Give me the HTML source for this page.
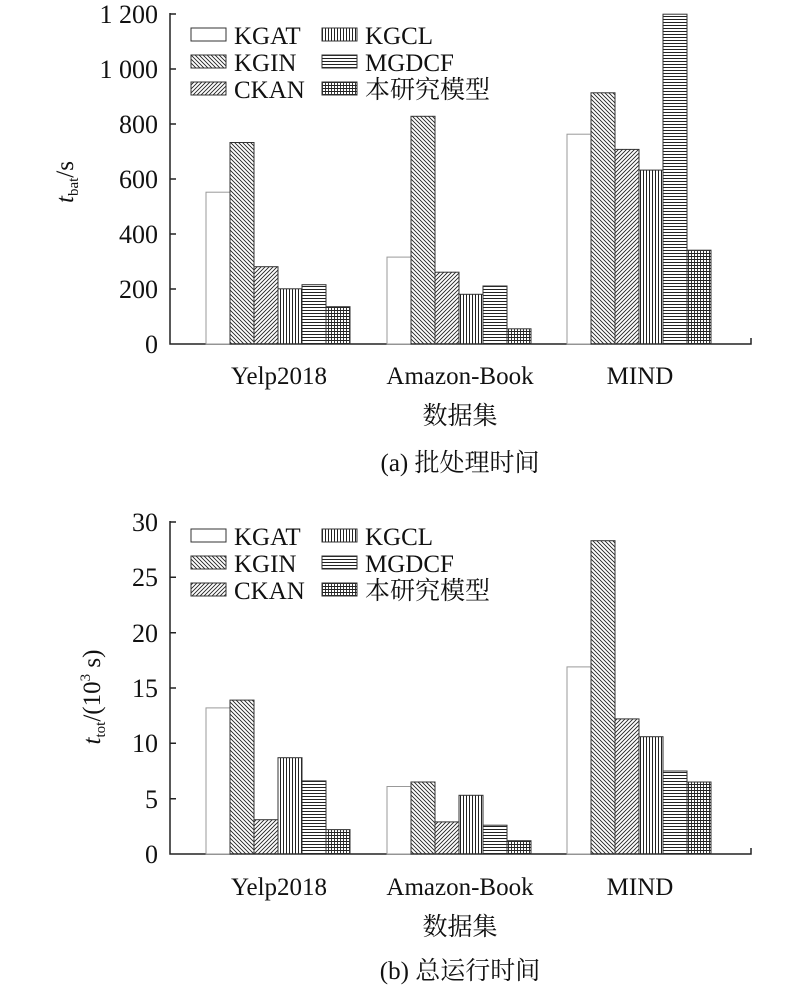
<!DOCTYPE html>
<html><head><meta charset="utf-8"><style>
html,body{margin:0;padding:0;background:#fff;}
svg{display:block;}
text{font-family:"Liberation Serif","Noto Serif CJK SC","Noto Sans CJK SC",serif;fill:#111;}
</style></head><body>
<svg width="800" height="993" viewBox="0 0 800 993" xmlns="http://www.w3.org/2000/svg">
<defs>
<pattern id="p1" patternUnits="userSpaceOnUse" width="4" height="4"><path d="M-1,-1 L5,5 M-1,3 L1,5 M3,-1 L5,1" stroke="#222" stroke-width="0.9"/></pattern>
<pattern id="p2" patternUnits="userSpaceOnUse" width="4" height="4"><path d="M-1,5 L5,-1 M-1,1 L1,-1 M3,5 L5,3" stroke="#222" stroke-width="0.9"/></pattern>
<pattern id="p3" patternUnits="userSpaceOnUse" width="3" height="3"><path d="M1.5,0 V3" stroke="#222" stroke-width="1"/></pattern>
<pattern id="p4" patternUnits="userSpaceOnUse" width="3" height="3"><path d="M0,1.5 H3" stroke="#222" stroke-width="1"/></pattern>
<pattern id="p5" patternUnits="userSpaceOnUse" width="3" height="3"><path d="M1.5,0 V3 M0,1.5 H3" stroke="#222" stroke-width="0.9"/></pattern>
</defs>

<!-- ===== Top chart ===== -->
<g stroke="#222" stroke-width="1.5" fill="none">
<path d="M170,13 V344 H751 V338"/>
<path d="M170,14 h6 M170,69 h6 M170,124 h6 M170,179 h6 M170,234 h6 M170,289 h6"/>
</g>
<g font-size="26" text-anchor="end">
<text x="158" y="23">1 200</text><text x="158" y="78">1 000</text><text x="158" y="133">800</text>
<text x="158" y="188">600</text><text x="158" y="243">400</text><text x="158" y="298">200</text><text x="158" y="353">0</text>
</g>
<text transform="translate(73,182) rotate(-90)" font-size="25" text-anchor="middle"><tspan font-style="italic">t</tspan><tspan font-size="15" dy="5">bat</tspan><tspan dy="-5">/s</tspan></text>
<g stroke="#333" stroke-width="1">
<rect x="206" y="192.2" width="24" height="151.8" fill="#fff" stroke="#999"/>
<rect x="230" y="142.5" width="24" height="201.5" fill="url(#p1)"/>
<rect x="254" y="266.7" width="24" height="77.3" fill="url(#p2)"/>
<rect x="278" y="288.8" width="24" height="55.2" fill="url(#p3)"/>
<rect x="302" y="284.7" width="24" height="59.3" fill="url(#p4)"/>
<rect x="326" y="306.7" width="24" height="37.3" fill="url(#p5)"/>
<rect x="387" y="257.1" width="24" height="86.9" fill="#fff" stroke="#999"/>
<rect x="411" y="116.3" width="24" height="227.7" fill="url(#p1)"/>
<rect x="435" y="272.2" width="24" height="71.8" fill="url(#p2)"/>
<rect x="459" y="294.3" width="24" height="49.7" fill="url(#p3)"/>
<rect x="483" y="286" width="24" height="58" fill="url(#p4)"/>
<rect x="507" y="328.8" width="24" height="15.2" fill="url(#p5)"/>
<rect x="567" y="134.2" width="24" height="209.8" fill="#fff" stroke="#999"/>
<rect x="591" y="92.8" width="24" height="251.2" fill="url(#p1)"/>
<rect x="615" y="149.4" width="24" height="194.6" fill="url(#p2)"/>
<rect x="639" y="170.1" width="24" height="173.9" fill="url(#p3)"/>
<rect x="663" y="14.2" width="24" height="329.8" fill="url(#p4)"/>
<rect x="687" y="250.2" width="24" height="93.8" fill="url(#p5)"/>
</g>
<g stroke="#333" stroke-width="1">
<rect x="191" y="28" width="35" height="13" fill="#fff"/>
<rect x="191" y="55" width="35" height="13" fill="url(#p1)"/>
<rect x="191" y="82" width="35" height="13" fill="url(#p2)"/>
<rect x="322" y="28" width="35" height="13" fill="url(#p3)"/>
<rect x="322" y="55" width="35" height="13" fill="url(#p4)"/>
<rect x="322" y="82" width="35" height="13" fill="url(#p5)"/>
</g>
<g font-size="25">
<text x="234" y="44">KGAT</text><text x="234" y="71">KGIN</text><text x="234" y="98">CKAN</text>
<text x="365" y="44">KGCL</text><text x="365" y="71">MGDCF</text><text x="365" y="98">本研究模型</text>
</g>
<g font-size="25" text-anchor="middle">
<text x="279" y="384">Yelp2018</text><text x="460" y="384">Amazon-Book</text><text x="640" y="384">MIND</text>
<text x="460" y="424">数据集</text><text x="460" y="471">(a) 批处理时间</text>
</g>

<!-- ===== Bottom chart ===== -->
<g stroke="#222" stroke-width="1.5" fill="none">
<path d="M170,521 V854 H751 V848"/>
<path d="M170,522 h6 M170,577.3 h6 M170,632.7 h6 M170,688 h6 M170,743.3 h6 M170,798.7 h6"/>
</g>
<g font-size="26" text-anchor="end">
<text x="158" y="531">30</text><text x="158" y="586">25</text><text x="158" y="642">20</text>
<text x="158" y="697">15</text><text x="158" y="752">10</text><text x="158" y="808">5</text><text x="158" y="863">0</text>
</g>
<text transform="translate(100,697) rotate(-90)" font-size="25" text-anchor="middle"><tspan font-style="italic">t</tspan><tspan font-size="15" dy="5">tot</tspan><tspan dy="-5">/(10</tspan><tspan font-size="15" dy="-10">3</tspan><tspan dy="10"> s)</tspan></text>
<g stroke="#333" stroke-width="1">
<rect x="206" y="707.9" width="24" height="146.1" fill="#fff" stroke="#999"/>
<rect x="230" y="700.1" width="24" height="153.9" fill="url(#p1)"/>
<rect x="254" y="819.7" width="24" height="34.3" fill="url(#p2)"/>
<rect x="278" y="757.7" width="24" height="96.3" fill="url(#p3)"/>
<rect x="302" y="780.9" width="24" height="73.1" fill="url(#p4)"/>
<rect x="326" y="829.6" width="24" height="24.4" fill="url(#p5)"/>
<rect x="387" y="786.5" width="24" height="67.5" fill="#fff" stroke="#999"/>
<rect x="411" y="782" width="24" height="72" fill="url(#p1)"/>
<rect x="435" y="821.9" width="24" height="32.1" fill="url(#p2)"/>
<rect x="459" y="795.3" width="24" height="58.7" fill="url(#p3)"/>
<rect x="483" y="825.2" width="24" height="28.8" fill="url(#p4)"/>
<rect x="507" y="840.7" width="24" height="13.3" fill="url(#p5)"/>
<rect x="567" y="666.9" width="24" height="187.1" fill="#fff" stroke="#999"/>
<rect x="591" y="540.7" width="24" height="313.3" fill="url(#p1)"/>
<rect x="615" y="718.9" width="24" height="135.1" fill="url(#p2)"/>
<rect x="639" y="736.7" width="24" height="117.3" fill="url(#p3)"/>
<rect x="663" y="771" width="24" height="83" fill="url(#p4)"/>
<rect x="687" y="782" width="24" height="72" fill="url(#p5)"/>
</g>
<g stroke="#333" stroke-width="1">
<rect x="191" y="529" width="35" height="13" fill="#fff"/>
<rect x="191" y="556" width="35" height="13" fill="url(#p1)"/>
<rect x="191" y="583" width="35" height="13" fill="url(#p2)"/>
<rect x="322" y="529" width="35" height="13" fill="url(#p3)"/>
<rect x="322" y="556" width="35" height="13" fill="url(#p4)"/>
<rect x="322" y="583" width="35" height="13" fill="url(#p5)"/>
</g>
<g font-size="25">
<text x="234" y="545">KGAT</text><text x="234" y="572">KGIN</text><text x="234" y="599">CKAN</text>
<text x="365" y="545">KGCL</text><text x="365" y="572">MGDCF</text><text x="365" y="599">本研究模型</text>
</g>
<g font-size="25" text-anchor="middle">
<text x="279" y="895">Yelp2018</text><text x="460" y="895">Amazon-Book</text><text x="640" y="895">MIND</text>
<text x="460" y="935">数据集</text><text x="460" y="979">(b) 总运行时间</text>
</g>
</svg>
</body></html>
